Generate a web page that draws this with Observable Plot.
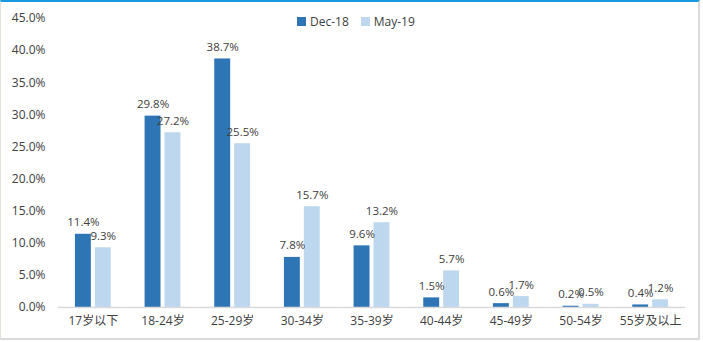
<!DOCTYPE html>
<html>
<head>
<meta charset="utf-8">
<script src="https://cdn.jsdelivr.net/npm/d3@7"></script>
<script src="https://cdn.jsdelivr.net/npm/@observablehq/plot@0.6"></script>
<style>
  html, body { margin: 0; padding: 0; background: #fff; }
  #wrap { position: relative; width: 703px; height: 342px; overflow: hidden; font-family: "Open Sans", "Noto Sans CJK SC", sans-serif; }
  #frame { position: absolute; left: 0; top: 0; width: 700px; height: 340px; border-left: 1px solid #e4e0da; border-right: 2px solid #d9d9d9; border-bottom: 2px solid #d9d9d9; border-top: 2px solid #1a9be0; box-sizing: border-box; pointer-events: none; }
  #legend { position: absolute; top: 13px; left: 297px; display: flex; gap: 12px; font-size: 12px; color: #404040; }
  #legend span.item { display: flex; align-items: center; gap: 4px; }
  #legend i { display: inline-block; width: 9px; height: 9px; }
  svg { position: absolute; left: 0; top: 0; }
</style>
</head>
<body>
<div id="wrap">
  <div id="chart"></div>
  <div id="legend"></div>
  <div id="frame"></div>
</div>
<script>
const categories = ["17岁以下", "18-24岁", "25-29岁", "30-34岁", "35-39岁", "40-44岁", "45-49岁", "50-54岁", "55岁及以上"];
const series = ["Dec-18", "May-19"];
const dec18 = [11.4, 29.8, 38.7, 7.8, 9.6, 1.5, 0.6, 0.2, 0.4];
const may19 = [9.3, 27.2, 25.5, 15.7, 13.2, 5.7, 1.7, 0.5, 1.2];
const colors = ["#2E75B6", "#BDD7EE"];
const yTicks = [0, 5, 10, 15, 20, 25, 30, 35, 40, 45];

const data = [];
categories.forEach((c, i) => {
  data.push({cat: c, series: series[0], value: dec18[i]});
  data.push({cat: c, series: series[1], value: may19[i]});
});

const font = "'Open Sans', 'Noto Sans CJK SC', sans-serif";

const plot = Plot.plot({
  width: 703,
  height: 342,
  marginLeft: 58,
  marginRight: 18,
  marginTop: 18,
  marginBottom: 35,
  style: {fontFamily: font, fontSize: "12px", color: "#404040", background: "transparent"},
  fx: {domain: categories, padding: 0, label: null, round: false},
  x: {domain: series, paddingInner: 0.2, paddingOuter: 0.85, round: false, axis: null},
  y: {domain: [0, 45], label: null},
  color: {domain: series, range: colors},
  marks: [
    Plot.axisFx({anchor: "bottom", tickSize: 0, tickPadding: 9, fontSize: 12, fill: "#404040", label: null}),
    Plot.axisY({ticks: yTicks, tickFormat: d => d.toFixed(1) + "%", tickSize: 0, tickPadding: 13, fontSize: 12, fill: "#404040", label: null}),
    Plot.barY(data, {fx: "cat", x: "series", y: "value", fill: "series"}),
    Plot.ruleY([0], {stroke: "#d9d9d9", strokeWidth: 1.5}),
    Plot.text(data, {fx: "cat", x: "series", y: "value", text: d => d.value.toFixed(1) + "%", lineAnchor: "bottom", dy: -8, fontSize: 11.5, fill: "#404040"})
  ]
});
document.getElementById("chart").appendChild(plot);

const legend = document.getElementById("legend");
series.forEach((s, i) => {
  const item = document.createElement("span");
  item.className = "item";
  const sw = document.createElement("i");
  sw.style.background = colors[i];
  item.appendChild(sw);
  item.appendChild(document.createTextNode(s));
  legend.appendChild(item);
});
</script>
</body>
</html>
